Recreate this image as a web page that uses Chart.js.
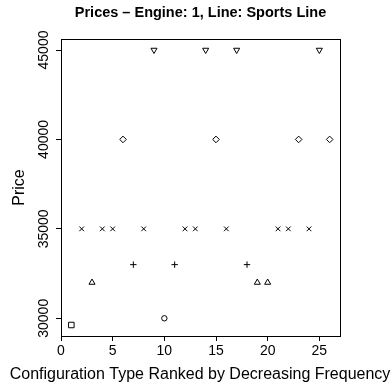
<!DOCTYPE html>
<html>
<head>
<meta charset="utf-8">
<script src="https://cdn.jsdelivr.net/npm/chart.js@4/dist/chart.umd.min.js"></script>
<style>
  html, body { margin: 0; padding: 0; background: #fff; }
</style>
</head>
<body>
<canvas id="myChart" width="392" height="387"></canvas>
<script>
const ranks = [1, 2, 3, 4, 5, 6, 7, 8, 9, 10, 11, 12, 13, 14, 15, 16, 17, 18, 19, 20, 21, 22, 23, 24, 25, 26];
const prices = [29625, 35000, 32000, 35000, 35000, 40000, 33000, 35000, 45000, 30000,
                33000, 35000, 35000, 45000, 40000, 35000, 45000, 33000, 32000, 32000,
                35000, 35000, 40000, 35000, 45000, 40000];
const xTicks = [0, 5, 10, 15, 20, 25];
const yTicks = [30000, 35000, 40000, 45000];

const FONT = '"Liberation Sans", Arial, Helvetica, sans-serif';

// one open symbol per distinct price level, like R's pch 0..6
const symbols = [
    { style: 'rect', radius: 3.9, rotation: 0 },
    { style: 'circle', radius: 2.7, rotation: 0 },
    { style: 'triangle', radius: 3.5, rotation: 0 },
    { style: 'cross', radius: 3.2, rotation: 0 },
    { style: 'crossRot', radius: 3.3, rotation: 0 },
    { style: 'rectRot', radius: 3.3, rotation: 0 },
    { style: 'triangle', radius: 3.5, rotation: 180 }
];
const levels = [...new Set(prices)].sort((a, b) => a - b);
const sym = prices.map(p => symbols[levels.indexOf(p)]);

// R style axis range: data range widened by 4% each side
function rRange(vals) {
    const lo = Math.min(...vals), hi = Math.max(...vals);
    const pad = (hi - lo) * 0.04;
    return [lo - pad, hi + pad];
}
const [xMin, xMax] = rRange(ranks);
const [yMin, yMax] = rRange(prices);

const boxPlugin = {
    id: 'box',
    afterDatasetsDraw(chart) {
        const { ctx, chartArea: a } = chart;
        ctx.save();
        ctx.strokeStyle = '#000';
        ctx.lineWidth = 1;
        ctx.strokeRect(Math.round(a.left) + 0.5, Math.round(a.top) + 0.5,
            Math.round(a.right - a.left), Math.round(a.bottom - a.top));
        ctx.restore();
    }
};

const config = {
    type: 'scatter',
    data: {
        datasets: [{
            data: ranks.map((r, i) => ({ x: r, y: prices[i] })),
            pointStyle: sym.map(s => s.style),
            pointRadius: sym.map(s => s.radius),
            pointRotation: sym.map(s => s.rotation),
            borderColor: '#000',
            backgroundColor: 'rgba(0,0,0,0)',
            borderWidth: 1
        }]
    },
    options: {
        responsive: false,
        animation: false,
        devicePixelRatio: 1,
        layout: { padding: { left: 8, right: 0, top: 0, bottom: 0 } },
        plugins: {
            legend: { display: false },
            tooltip: { enabled: false },
            title: {
                display: true,
                text: 'Prices \u2013 Engine: 1, Line: Sports Line',
                fullSize: false,
                color: '#000',
                font: { family: FONT, size: 14.5, weight: 'bold' },
                padding: { top: 4.3, bottom: 17.3 }
            },
            subtitle: {
                display: true,
                position: 'bottom',
                text: 'Configuration Type Ranked by Decreasing Frequency',
                color: '#000',
                font: { family: FONT, size: 16 },
                padding: { top: 0, bottom: 2.4 }
            }
        },
        scales: {
            x: {
                type: 'linear',
                min: xMin,
                max: xMax,
                afterBuildTicks: s => { s.ticks = xTicks.map(v => ({ value: v })); },
                afterFit: s => { s.height = 29.4; },
                ticks: { color: '#000', font: { family: FONT, size: 14 }, padding: 1.6, autoSkip: false },
                grid: { drawOnChartArea: false, color: '#000', tickLength: 5 },
                border: { display: false }
            },
            y: {
                type: 'linear',
                min: yMin,
                max: yMax,
                afterBuildTicks: s => { s.ticks = yTicks.map(v => ({ value: v })); },
                afterFit: s => { s.width = 53; },
                ticks: {
                    color: '#000', font: { family: FONT, size: 14 },
                    minRotation: 90, maxRotation: 90, crossAlign: 'center', padding: -7.5,
                    autoSkip: false, callback: v => String(v)
                },
                grid: { drawOnChartArea: false, color: '#000', tickLength: 5 },
                border: { display: false },
                title: {
                    display: true, text: 'Price', color: '#000',
                    font: { family: FONT, size: 16 }, padding: { top: 1.9, bottom: 0 }
                }
            },
            y2: {
                position: 'right',
                display: true,
                afterFit: s => { s.width = 52; },
                ticks: { display: false },
                grid: { display: false },
                border: { display: false }
            }
        }
    },
    plugins: [boxPlugin]
};

new Chart(document.getElementById('myChart'), config);
</script>
</body>
</html>
